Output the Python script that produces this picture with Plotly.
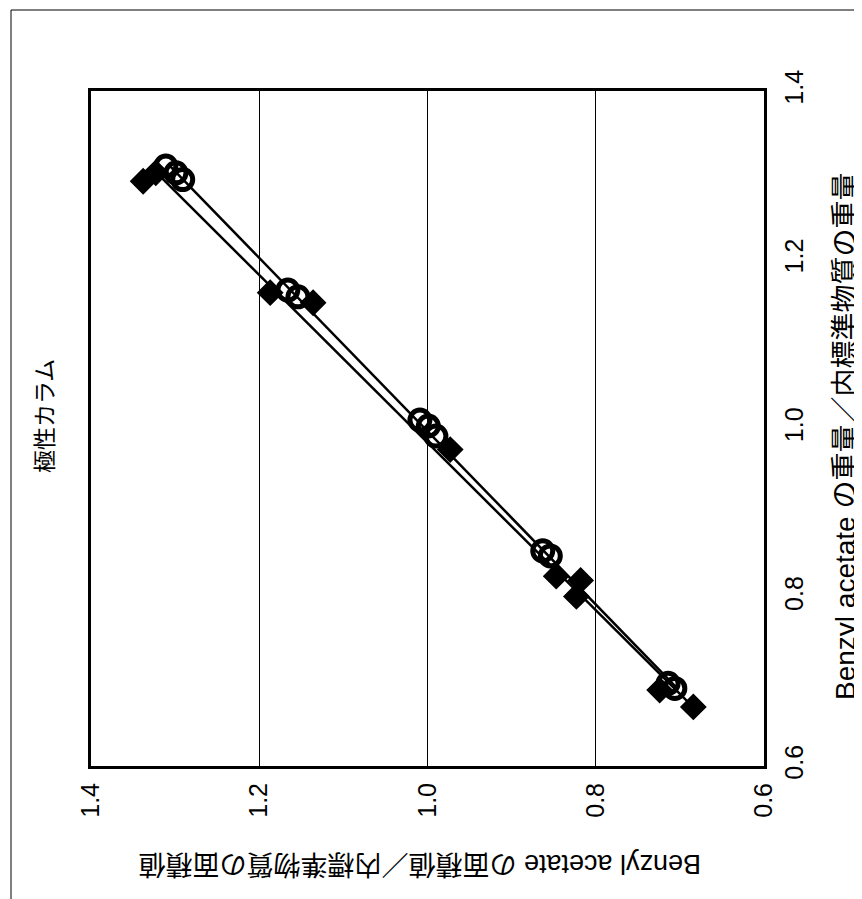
import numpy as np
import plotly.graph_objects as go

# Original (unrotated) data: x = Benzyl acetate weight ratio, y = area ratio
diamond_x = [1.293, 1.303, 1.161, 1.149, 0.975, 0.825, 0.820, 0.801, 0.690, 0.670]
diamond_y = [1.338, 1.323, 1.187, 1.136, 0.973, 0.847, 0.818, 0.823, 0.724, 0.684]

circle_x = [1.311, 1.303, 1.295, 1.164, 1.156, 1.010, 1.003, 0.991, 0.855, 0.849, 0.698, 0.692]
circle_y = [1.311, 1.299, 1.291, 1.166, 1.154, 1.009, 0.999, 0.990, 0.863, 0.854, 0.714, 0.706]

tick_vals = [0.6, 0.8, 1.0, 1.2, 1.4]
tick_text = ["0.6", "0.8", "1.0", "1.2", "1.4"]

title_text = "極性カラム"
xtitle = "Benzyl acetate の重量／内標準物質の重量"
ytitle = "Benzyl acetate の面積値／内標準物質の面積値"

FONT = "Liberation Sans, Arial, Noto Sans CJK JP"

fig = go.Figure()

# Trend lines (least squares) -- chart is rotated 90° CCW:
# horizontal axis shows the original y value (reversed), vertical shows original x
for xs, ys in [(diamond_x, diamond_y), (circle_x, circle_y)]:
    a, b = np.polyfit(xs, ys, 1)
    lx = np.array([min(xs), max(xs)])
    fig.add_trace(go.Scatter(x=a * lx + b, y=lx, mode="lines",
                             line=dict(color="black", width=2.5),
                             hoverinfo="skip", showlegend=False))

fig.add_trace(go.Scatter(x=circle_y, y=circle_x, mode="markers",
                         marker=dict(symbol="circle-open", size=20, color="black",
                                     line=dict(width=5, color="black")),
                         showlegend=False))
fig.add_trace(go.Scatter(x=diamond_y, y=diamond_x, mode="markers",
                         marker=dict(symbol="diamond", size=19, color="black",
                                     line=dict(width=1.5, color="black")),
                         showlegend=False))

L, R, T, B = 83, 106, 83, 141
W, H = 862, 899
pw, ph = W - L - R, H - T - B

def px(x):
    return (x - L) / pw

def py(y):
    return (H - B - y) / ph

fig.update_layout(
    width=W, height=H,
    margin=dict(l=L, r=R, t=T, b=B, autoexpand=False),
    paper_bgcolor="white", plot_bgcolor="white",
    font=dict(family=FONT, size=24, color="black"),
    xaxis=dict(range=[1.4, 0.6], tickvals=tick_vals, ticktext=tick_text,
               tickangle=-90, showgrid=True, gridcolor="black", gridwidth=1,
               zeroline=False, showline=True, linecolor="black", linewidth=3,
               mirror=True, ticks="", ticklabelstandoff=4, automargin=False,
               tickfont=dict(size=25, family=FONT)),
    yaxis=dict(range=[0.6, 1.4], tickvals=tick_vals, ticktext=tick_text,
               tickangle=-90, showgrid=False, zeroline=False, showline=True,
               linecolor="black", linewidth=3, mirror=True, side="right",
               ticks="", ticklabelstandoff=6, automargin=False,
               tickfont=dict(size=25, family=FONT)),
    annotations=[
        dict(text=title_text, textangle=-90, x=px(37), y=py(408),
             xref="paper", yref="paper", showarrow=False,
             xanchor="center", yanchor="middle",
             font=dict(size=23, family=FONT)),
        dict(text=xtitle, textangle=-90, x=px(837), y=py(429),
             xref="paper", yref="paper", showarrow=False,
             xanchor="center", yanchor="middle",
             font=dict(size=28, family=FONT)),
        dict(text=ytitle, textangle=180, x=px(412), y=py(856),
             xref="paper", yref="paper", showarrow=False,
             xanchor="center", yanchor="middle",
             font=dict(size=27, family=FONT)),
    ],
    shapes=[
        dict(type="rect", xref="paper", yref="paper",
             x0=px(3), x1=px(858), y0=py(897), y1=py(2),
             line=dict(color="black", width=1)),
    ],
)

fig.write_html("out.html")
